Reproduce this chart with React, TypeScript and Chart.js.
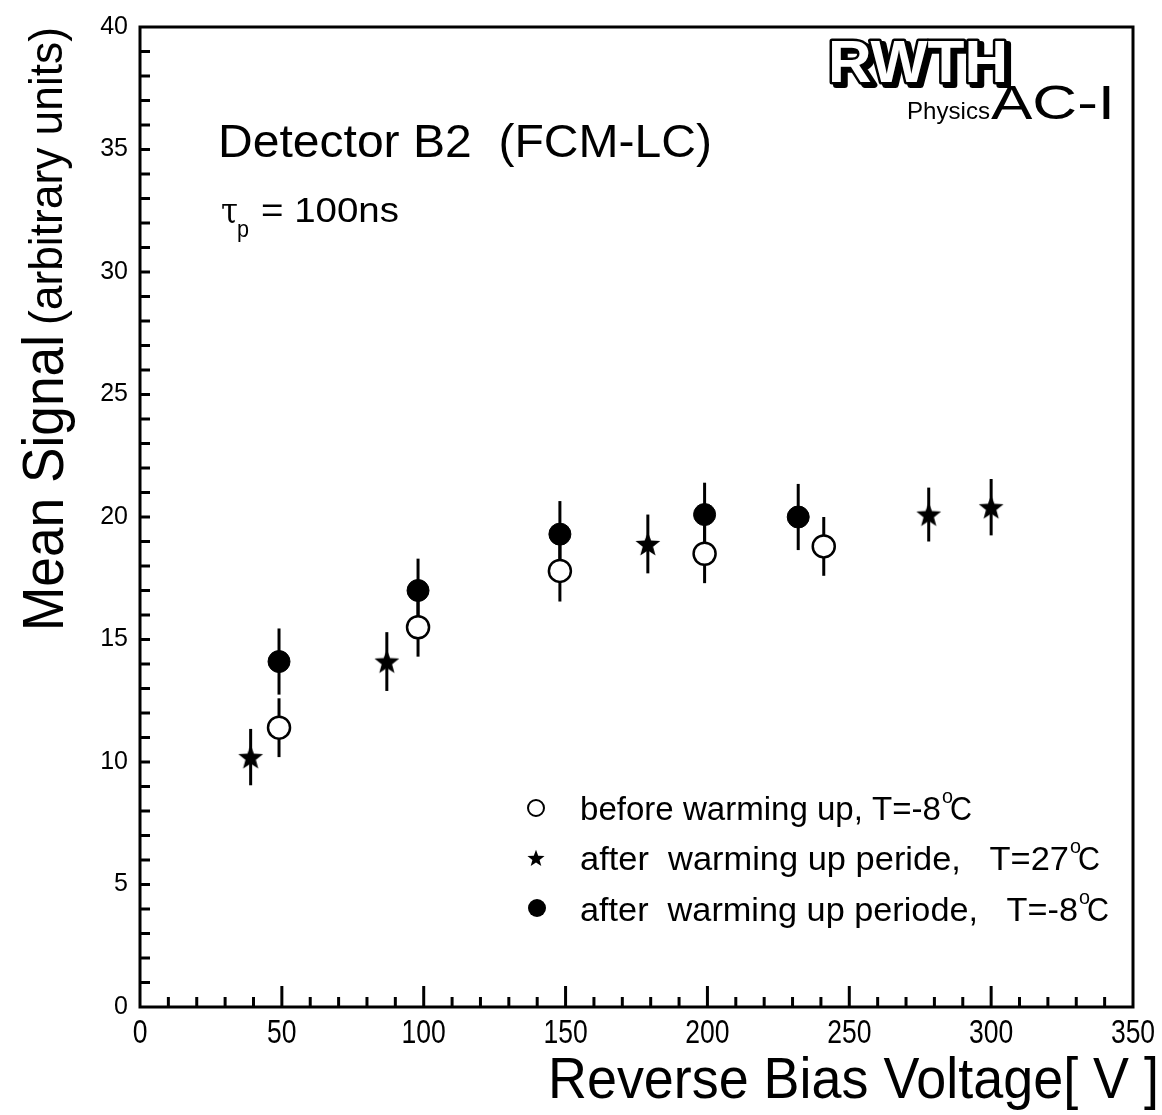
import { useEffect, useRef } from "react";
import { Chart, registerables } from "chart.js";

Chart.register(...registerables);

// ---- data ----
const beforeV = [49, 98, 148, 199, 241];
const beforeS = [11.4, 15.5, 17.8, 18.5, 18.8];
const beforeErr = [1.2, 1.2, 1.25, 1.2, 1.2];

const warmV = [39, 87, 179, 278, 300];
const warmS = [10.2, 14.1, 18.9, 20.1, 20.4];
const warmErr = [1.15, 1.2, 1.2, 1.1, 1.15];

const afterV = [49, 98, 148, 199, 232];
const afterS = [14.1, 17.0, 19.3, 20.1, 20.0];
const afterErr = [1.35, 1.3, 1.35, 1.3, 1.35];

const xTickLabels = [0, 50, 100, 150, 200, 250, 300, 350];
const yTickLabels = [0, 5, 10, 15, 20, 25, 30, 35, 40];

const legendLabels = [
  ["before warming up, T=-8", "C"],
  ["after  warming up peride,   T=27", "C"],
  ["after  warming up periode,   T=-8", "C"],
];

function makeStar(r: number): HTMLCanvasElement {
  const size = Math.ceil(r * 2 + 4);
  const c = document.createElement("canvas");
  c.width = size;
  c.height = size;
  const ctx = c.getContext("2d")!;
  const cx = size / 2;
  const cy = size / 2 + r * 0.08;
  ctx.beginPath();
  for (let i = 0; i < 10; i++) {
    const rad = i % 2 === 0 ? r : r * 0.42;
    const a = -Math.PI / 2 + (i * Math.PI) / 5;
    const px = cx + rad * Math.cos(a);
    const py = cy + rad * Math.sin(a);
    if (i === 0) ctx.moveTo(px, py);
    else ctx.lineTo(px, py);
  }
  ctx.closePath();
  ctx.fillStyle = "#000";
  ctx.fill();
  return c;
}

function fitText(
  ctx: CanvasRenderingContext2D,
  text: string,
  x: number,
  y: number,
  font: string,
  width: number
) {
  ctx.save();
  ctx.font = font;
  ctx.textAlign = "left";
  ctx.textBaseline = "alphabetic";
  const m = ctx.measureText(text).width;
  const s = width / m;
  ctx.translate(x, y);
  ctx.scale(s, 1);
  ctx.fillStyle = "#000";
  ctx.fillText(text, 0, 0);
  ctx.restore();
}

const FONT = "'Liberation Sans', Arial, Helvetica, sans-serif";

export default function App() {
  const ref = useRef<HTMLCanvasElement>(null);

  useEffect(() => {
    const canvas = ref.current!;
    const starImg = makeStar(13);

    const errorBars = {
      id: "errorBars",
      beforeDatasetsDraw(chart: any) {
        const ctx = chart.ctx;
        const xs = chart.scales.x;
        const ys = chart.scales.y;
        ctx.save();
        ctx.strokeStyle = "#000";
        ctx.lineWidth = 3;
        chart.data.datasets.forEach((ds: any) => {
          ds.data.forEach((p: any) => {
            const px = xs.getPixelForValue(p.x);
            ctx.beginPath();
            ctx.moveTo(px, ys.getPixelForValue(p.y - p.err));
            ctx.lineTo(px, ys.getPixelForValue(p.y + p.err));
            ctx.stroke();
          });
        });
        ctx.restore();
      },
    };

    const decorations = {
      id: "decorations",
      afterDraw(chart: any) {
        const ctx: CanvasRenderingContext2D = chart.ctx;
        const { left, right, top, bottom } = chart.chartArea;
        const xs = chart.scales.x;
        const ys = chart.scales.y;
        ctx.save();
        ctx.strokeStyle = "#000";
        ctx.fillStyle = "#000";
        // frame
        ctx.lineWidth = 3;
        ctx.strokeRect(left, top, right - left, bottom - top);
        // y ticks (every 1)
        for (let v = 1; v < 40; v++) {
          const py = ys.getPixelForValue(v);
          ctx.beginPath();
          ctx.moveTo(left, py);
          ctx.lineTo(left + 10, py);
          ctx.stroke();
        }
        // x ticks (every 10, major every 50)
        for (let v = 10; v < 350; v += 10) {
          const px = xs.getPixelForValue(v);
          const len = v % 50 === 0 ? 21 : 10;
          ctx.beginPath();
          ctx.moveTo(px, bottom);
          ctx.lineTo(px, bottom - len);
          ctx.stroke();
        }
        // x tick labels (condensed)
        xTickLabels.forEach((v) => {
          const px = xs.getPixelForValue(v);
          ctx.save();
          ctx.font = `34px ${FONT}`;
          const w = ctx.measureText(String(v)).width * 0.78;
          ctx.restore();
          fitText(ctx, String(v), px - w / 2, 1043, `34px ${FONT}`, w);
        });

        // y title (rotated)
        ctx.save();
        ctx.translate(63, 631);
        ctx.rotate(-Math.PI / 2);
        fitText(ctx, "Mean Signal", 0, 0, `58px ${FONT}`, 296);
        fitText(ctx, "(arbitrary units)", 306, -1, `46px ${FONT}`, 298);
        ctx.restore();

        // x title
        fitText(ctx, "Reverse Bias Voltage[ V ]", 548, 1098, `57px ${FONT}`, 611);

        // annotations
        fitText(ctx, "Detector B2  (FCM-LC)", 218, 157, `47px ${FONT}`, 494);
        fitText(ctx, "τ", 221, 222, `36px 'DejaVu Serif', serif`, 17);
        fitText(ctx, "p", 237, 237, `24px ${FONT}`, 12);
        fitText(ctx, "= 100ns", 261, 222, `35px ${FONT}`, 138);

        // RWTH logo
        ctx.save();
        ctx.font = `bold 60px ${FONT}`;
        const tw = ctx.measureText("RWTH").width;
        const sx = 180 / tw;
        ctx.translate(828, 82);
        ctx.scale(sx, 1);
        ctx.lineJoin = "round";
        ctx.fillStyle = "#000";
        ctx.strokeStyle = "#000";
        ctx.lineWidth = 6;
        ctx.strokeText("RWTH", 4, 3);
        ctx.fillText("RWTH", 4, 3);
        ctx.lineWidth = 5;
        ctx.strokeText("RWTH", 0, 0);
        ctx.fillStyle = "#fff";
        ctx.fillText("RWTH", 0, 0);
        ctx.restore();
        fitText(ctx, "Physics", 907, 119, `24px ${FONT}`, 83);
        fitText(ctx, "AC-I", 991, 119, `48px ${FONT}`, 124);

        // legend
        const lx = 536;
        const rows = [808, 858, 908];
        ctx.lineWidth = 2;
        ctx.beginPath();
        ctx.arc(lx, rows[0], 8, 0, Math.PI * 2);
        ctx.fillStyle = "#fff";
        ctx.fill();
        ctx.stroke();
        const st = makeStar(9);
        ctx.drawImage(st, lx - st.width / 2, rows[1] - st.height / 2);
        ctx.fillStyle = "#000";
        ctx.beginPath();
        ctx.arc(lx + 1, rows[2], 9, 0, Math.PI * 2);
        ctx.fill();

        const ends = [941, 1069, 1078];
        const baselines = [820, 870, 921];
        legendLabels.forEach((lab, i) => {
          fitText(ctx, lab[0], 580, baselines[i], `33px ${FONT}`, ends[i] - 580);
          fitText(ctx, "o", ends[i] + 1, baselines[i] - 17, `21px ${FONT}`, 11);
          fitText(ctx, lab[1], ends[i] + 9, baselines[i], `33px ${FONT}`, 22);
        });
        ctx.restore();
      },
    };

    const chart = new Chart(canvas, {
      type: "scatter",
      data: {
        datasets: [
          {
            label: "before warming up, T=-8°C",
            data: beforeV.map((v, i) => ({ x: v, y: beforeS[i], err: beforeErr[i] })),
            pointStyle: "circle",
            pointRadius: 11,
            borderWidth: 2.5,
            borderColor: "#000",
            backgroundColor: "#fff",
          },
          {
            label: "after  warming up peride, T=27°C",
            data: warmV.map((v, i) => ({ x: v, y: warmS[i], err: warmErr[i] })),
            pointStyle: starImg as any,
            pointRadius: 13,
            borderColor: "#000",
            backgroundColor: "#000",
          },
          {
            label: "after  warming up periode, T=-8°C",
            data: afterV.map((v, i) => ({ x: v, y: afterS[i], err: afterErr[i] })),
            pointStyle: "circle",
            pointRadius: 11,
            borderWidth: 1,
            borderColor: "#000",
            backgroundColor: "#000",
          },
        ] as any,
      },
      options: {
        animation: false,
        responsive: false,
        devicePixelRatio: 1,
        layout: { padding: { left: 0, top: 19, right: 29, bottom: 0 } },
        plugins: {
          legend: { display: false },
          tooltip: { enabled: false },
        },
        scales: {
          x: {
            type: "linear",
            min: 0,
            max: 350,
            ticks: { display: false, stepSize: 50 },
            grid: { display: false, drawTicks: false },
            border: { display: false },
            afterFit: (s: any) => {
              s.height = 1115 - 1007;
            },
          },
          y: {
            type: "linear",
            min: 0,
            max: 40,
            ticks: {
              stepSize: 5,
              padding: 12,
              color: "#000",
              font: { family: FONT, size: 25 },
              callback: (v: any) => (yTickLabels.includes(v) ? String(v) : ""),
            },
            grid: { display: false, drawTicks: false },
            border: { display: false },
            afterFit: (s: any) => {
              s.width = 140;
            },
          },
        },
      } as any,
      plugins: [errorBars, decorations],
    });

    return () => chart.destroy();
  }, []);

  return (
    <div style={{ position: "absolute", left: 0, top: 0, width: 1162, height: 1115, background: "#fff" }}>
      <canvas ref={ref} width={1162} height={1115} style={{ display: "block" }} />
    </div>
  );
}
